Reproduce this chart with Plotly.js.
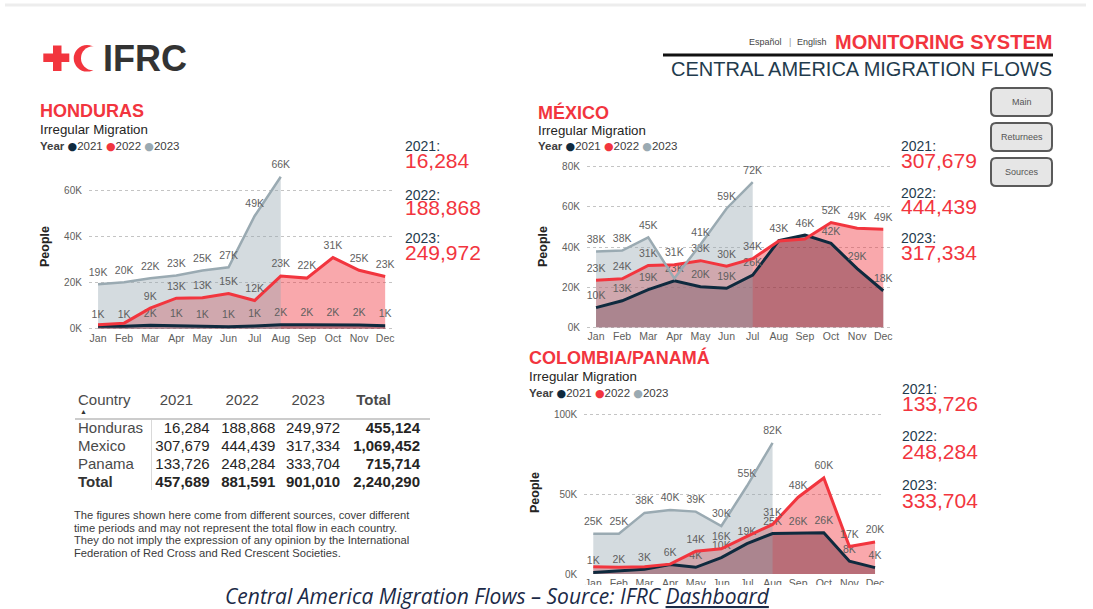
<!DOCTYPE html>
<html><head><meta charset="utf-8">
<script src="https://cdn.plot.ly/plotly-3.0.1.min.js"></script>
<style>html,body{margin:0;padding:0;background:#fff;overflow:hidden}#chart{width:1093px;height:609px}</style>
</head><body><div id="chart"></div>
<script>
// ---------- DATA ----------
const months = ['Jan','Feb','Mar','Apr','May','Jun','Jul','Aug','Sep','Oct','Nov','Dec'];

const hn2021 = [1100,1100,1550,1300,1000,900,1200,1700,1700,1800,1600,1300];
const hn2022 = [1700,2400,8900,13200,13400,15200,12200,22800,21900,30800,25300,22600];
const hn2023 = [19200,20100,21800,23000,25200,26600,48800,65800];
const hnShow2021 = [1,1,1,1,1,1,1,1,1,1,1,1];
const hnShow2022 = [0,0,1,1,1,1,1,1,1,1,1,1];
const hnShow2023 = [1,1,1,1,1,1,1,1];

const mx2021 = [9800,13200,18800,23200,20200,19400,26000,43200,45900,41800,29200,18200];
const mx2022 = [23400,24200,30800,31200,33200,30400,34200,43000,44000,52200,49300,48900];
const mx2023 = [37800,38200,44800,24400,41200,59200,72300];
const mxShow2021 = [1,1,1,1,1,1,1,0,1,1,1,1];
const mxShow2022 = [1,1,1,1,1,1,1,1,0,1,1,1];
const mxShow2023 = [1,1,1,0,1,1,1];

const co2021 = [1000,1800,3000,6000,4200,10300,19000,25300,25500,25800,8000,4000];
const co2022 = [4500,4300,4600,6200,14200,15800,23500,31000,48000,60000,17200,20000];
const co2023 = [25200,25200,38200,40000,39000,30000,55000,82000];
const coShow2021 = [1,1,1,1,1,1,1,1,1,1,1,1];
const coShow2022 = [0,0,0,0,1,1,0,1,1,1,1,1];
const coShow2023 = [1,1,1,1,1,1,1,1];

const hnTickVals = [0,20000,40000,60000];
const hnTickText = ['0K','20K','40K','60K'];
const mxTickVals = [0,20000,40000,60000,80000];
const mxTickText = ['0K','20K','40K','60K','80K'];
const coTickVals = [0,50000,100000];
const coTickText = ['0K','50K','100K'];

const years = ['2021','2022','2023'];
const countries = ['Honduras','Mexico','Panama'];
const total2021 = [16284,307679,133726];
const total2022 = [188868,444439,248284];
const total2023 = [249972,317334,333704];
const rowTotals = [455124,1069452,715714];
const colTotals = [457689,881591,901010,2240290];

// ---------- HELPERS ----------
const W = 1093, H = 609;
const X = p => p / W, Y = p => 1 - p / H;
const FONT = 'Liberation Sans, Arial, Helvetica, sans-serif';
const C21 = '#0F2A3E', C22 = '#F2353E', C23 = '#9AAAB2';
const F21 = 'rgba(17,41,61,0.47)', F22 = 'rgba(242,53,62,0.43)', F23 = 'rgba(150,167,177,0.41)';
const RED = '#F2353E', NAVY = '#1F3B4D', GRAYTXT = '#605E5C';
const CLEAR = 'rgba(0,0,0,0)';
const fmt = v => v.toLocaleString('en-US');
const lbl = (vals, show) => vals.map((v, i) => show[i] ? Math.round(v / 1000) + 'K' : '');

function areaTraces(xa, ya, s21, s22, s23, m21, m22, m23) {
  const xs = n => months.slice(0, n);
  const fills = [[s21, F21], [s22, F22], [s23, F23]].map(([s, c]) => ({
    type: 'scatter', x: xs(s.length), y: s, xaxis: xa, yaxis: ya, mode: 'none',
    fill: 'tozeroy', fillcolor: c, hoverinfo: 'skip', showlegend: false
  }));
  const lines = [[s21, C21, 3, m21], [s22, C22, 3, m22], [s23, C23, 2.5, m23]].map(([s, c, w, m]) => ({
    type: 'scatter', x: xs(s.length), y: s, xaxis: xa, yaxis: ya, mode: 'lines+markers+text',
    line: { width: w, color: c }, marker: { size: 8, color: CLEAR },
    text: lbl(s, m), textposition: 'top center',
    textfont: { family: FONT, size: 10.5, color: '#5F5F5F' },
    cliponaxis: false, hoverinfo: 'skip', showlegend: false
  }));
  return fills.concat(lines);
}

function xAxis(l, r, anchor) {
  return { domain: [X(l), X(r)], anchor, type: 'category', categoryarray: months, range: [-0.35, 11.35],
    showgrid: false, zeroline: false, showline: false, ticks: '',
    tickfont: { family: FONT, size: 10.5, color: GRAYTXT }, fixedrange: true };
}
function yAxis(b, t, range, tv, tt, anchor) {
  return { domain: [Y(b), Y(t)], anchor, range, tickvals: tv, ticktext: tt,
    showgrid: true, gridcolor: '#C4C4C4', griddash: 'dot', gridwidth: 1,
    zeroline: false, showline: false, ticks: '', ticklabelstandoff: 6,
    tickfont: { family: FONT, size: 10, color: GRAYTXT }, fixedrange: true };
}
function T(x, y, text, size, color, opt) {
  return Object.assign({ xref: 'paper', yref: 'paper', x: X(x), y: Y(y), text, showarrow: false,
    xanchor: 'left', yanchor: 'middle', font: { family: FONT, size, color } }, opt || {});
}
function rr(x0, y0, x1, y1, r) {
  const p = (x, y) => X(x) + ',' + Y(y);
  return `M${p(x0 + r, y0)} L${p(x1 - r, y0)} Q${p(x1, y0)} ${p(x1, y0 + r)} L${p(x1, y1 - r)} Q${p(x1, y1)} ${p(x1 - r, y1)} L${p(x0 + r, y1)} Q${p(x0, y1)} ${p(x0, y1 - r)} L${p(x0, y0 + r)} Q${p(x0, y0)} ${p(x0 + r, y0)} Z`;
}
const dot = c => `<span style="color:${c};font-family:DejaVu Sans;font-size:11px">●</span>`;
const legendText = `<b>Year</b> ${dot(C21)}2021 ${dot(C22)}2022 ${dot(C23)}2023`;

// ---------- TRACES ----------
let traces = [];
traces = traces.concat(areaTraces('x', 'y', hn2021, hn2022, hn2023, hnShow2021, hnShow2022, hnShow2023));
traces = traces.concat(areaTraces('x2', 'y2', mx2021, mx2022, mx2023, mxShow2021, mxShow2022, mxShow2023));
traces = traces.concat(areaTraces('x3', 'y3', co2021, co2022, co2023, coShow2021, coShow2022, coShow2023));

const rowW = [400, 400, 400, 700];
traces.push({
  type: 'table',
  domain: { x: [X(70), X(429)], y: [Y(505), Y(385.5)] },
  columnwidth: [82, 66, 66, 65, 80],
  header: {
    values: ['Country'].concat(years).concat(['Total']),
    align: 'left', height: 28,
    fill: { color: CLEAR }, line: { width: 0, color: CLEAR },
    font: { family: FONT, size: 15, color: '#4A4A4A', weight: [400, 400, 400, 400, 700] }
  },
  cells: {
    values: [
      countries.concat(['Total']),
      total2021.map(fmt).concat([fmt(colTotals[0])]),
      total2022.map(fmt).concat([fmt(colTotals[1])]),
      total2023.map(fmt).concat([fmt(colTotals[2])]),
      rowTotals.map(fmt).concat([fmt(colTotals[3])])
    ],
    align: ['left', 'right', 'right', 'right', 'right'], height: 18,
    fill: { color: CLEAR }, line: { width: 0, color: CLEAR },
    font: { family: FONT, size: 15,
      color: [['#4A4A4A', '#4A4A4A', '#4A4A4A', '#333'], '#252423', '#252423', '#252423', '#252423'],
      weight: [rowW, rowW, rowW, rowW, [700, 700, 700, 700]] }
  }
});

// ---------- ANNOTATIONS ----------
const ann = [];
ann.push(T(101, 59, '<b>IFRC</b>', 36, '#333333'));
ann.push(T(747, 42, 'Español', 9, '#444'));
ann.push(T(787, 42, '|', 9, '#999'));
ann.push(T(795, 42, 'English', 9, '#444'));
ann.push(T(1054, 42, '<b>MONITORING SYSTEM</b>', 20, RED, { xanchor: 'right' }));
ann.push(T(1054, 69, 'CENTRAL AMERICA MIGRATION FLOWS', 20, NAVY, { xanchor: 'right' }));
[['Main', 102], ['Returnees', 137], ['Sources', 172]].forEach(([t, y]) =>
  ann.push(T(1021.5, y, t, 9, '#555', { xanchor: 'center' })));

const panels = [
  { title: 'HONDURAS', tx: 38, ty: 111, sy: 130, ly: 146, px: 45, py: 247, nx: 403, ny: [146, 160.5, 194.5, 207.5, 238, 252.5], idx: 0 },
  { title: 'MÉXICO', tx: 536, ty: 112.5, sy: 131, ly: 146, px: 543, py: 247, nx: 899, ny: [146, 160.5, 192.7, 206.7, 238, 252.7], idx: 1 },
  { title: 'COLOMBIA/PANAMÁ', tx: 527, ty: 358, sy: 376, ly: 393, px: 535, py: 493, nx: 900, ny: [389, 403.5, 436, 451, 485, 500.7], idx: 2 }
];
const allTotals = [total2021, total2022, total2023];
panels.forEach(p => {
  ann.push(T(p.tx, p.ty, '<b>' + p.title + '</b>', 18, RED));
  ann.push(T(p.tx, p.sy, 'Irregular Migration', 13.3, '#252423'));
  ann.push(T(p.tx, p.ly, legendText, 11.5, '#404040'));
  ann.push(T(p.px, p.py, '<b>People</b>', 12.5, '#252423', { xanchor: 'center', textangle: -90 }));
  years.forEach((yr, k) => {
    ann.push(T(p.nx, p.ny[2 * k], yr + ':', 14, NAVY));
    ann.push(T(p.nx, p.ny[2 * k + 1], fmt(allTotals[k][p.idx]), 21, RED));
  });
});
ann.push(T(83, 411.5, '▲', 7, '#333', { xanchor: 'center' }));
['The figures shown here come from different sources, cover different',
 'time periods and may not represent the total flow in each country.',
 'They do not imply the expression of any opinion by the International',
 'Federation of Red Cross and Red Crescent Societies.'].forEach((t, i) =>
  ann.push(T(72, 515 + i * 12.6, t, 11.2, '#3A3A3A')));
ann.push(T(497, 596, 'Central America Migration Flows – Source: IFRC <span style="text-decoration:underline">Dashboard</span>', 21, '#1B2A47',
  { xanchor: 'center', font: { family: 'Open Sans, sans-serif', size: 21, color: '#1B2A47', style: 'italic' } }));

// ---------- SHAPES ----------
const shapes = [
  { type: 'line', xref: 'paper', yref: 'paper', x0: X(5), x1: X(1086), y0: Y(5), y1: Y(5), line: { color: '#EDEDED', width: 3 } },
  { type: 'line', xref: 'paper', yref: 'paper', x0: X(663), x1: X(1053), y0: Y(55), y1: Y(55), line: { color: '#111', width: 3 } },
  { type: 'rect', xref: 'paper', yref: 'paper', x0: X(43.3), x1: X(69.3), y0: Y(53.5), y1: Y(62), fillcolor: RED, line: { width: 0 } },
  { type: 'rect', xref: 'paper', yref: 'paper', x0: X(53), x1: X(61.5), y0: Y(45.5), y1: Y(71), fillcolor: RED, line: { width: 0 } },
  { type: 'circle', xref: 'paper', yref: 'paper', x0: X(73.7), x1: X(100.3), y0: Y(45), y1: Y(71.6), fillcolor: RED, line: { width: 0 } },
  { type: 'circle', xref: 'paper', yref: 'paper', x0: X(81), x1: X(105), y0: Y(46.3), y1: Y(70.3), fillcolor: 'white', line: { width: 0 } },
  { type: 'path', xref: 'paper', yref: 'paper', path: rr(991, 88, 1052, 116, 5), fillcolor: '#E6E6E6', line: { color: '#5A5A5A', width: 2 } },
  { type: 'path', xref: 'paper', yref: 'paper', path: rr(991, 123, 1052, 151, 5), fillcolor: '#E6E6E6', line: { color: '#5A5A5A', width: 2 } },
  { type: 'path', xref: 'paper', yref: 'paper', path: rr(991, 158, 1052, 186, 5), fillcolor: '#E6E6E6', line: { color: '#5A5A5A', width: 2 } },
  { type: 'line', xref: 'paper', yref: 'paper', x0: X(75), x1: X(430), y0: Y(419), y1: Y(419), line: { color: '#CCCCCC', width: 2 } },
  { type: 'line', xref: 'paper', yref: 'paper', x0: X(151.5), x1: X(151.5), y0: Y(420), y1: Y(490), line: { color: '#D9D9D9', width: 1 } },
  { type: 'rect', xref: 'paper', yref: 'paper', layer: 'above', x0: 0, x1: 1, y0: 0, y1: Y(585), fillcolor: 'white', line: { width: 0 } }
];

const layout = {
  width: W, height: H, margin: { l: 0, r: 0, t: 0, b: 0 },
  paper_bgcolor: 'white', plot_bgcolor: CLEAR, showlegend: false,
  font: { family: FONT },
  xaxis: xAxis(88.9, 394.3, 'y'),
  yaxis: yAxis(330.1, 167.0, [-600, 70000], hnTickVals, hnTickText, 'x'),
  xaxis2: xAxis(586.9, 892.4, 'y2'),
  yaxis2: yAxis(328.5, 164.7, [-600, 81000], mxTickVals, mxTickText, 'x2'),
  xaxis3: xAxis(584.3, 884, 'y3'),
  yaxis3: yAxis(575, 410.8, [-600, 102000], coTickVals, coTickText, 'x3'),
  annotations: ann, shapes
};
Plotly.newPlot('chart', traces, layout, { staticPlot: true, displayModeBar: false });
</script></body></html>
